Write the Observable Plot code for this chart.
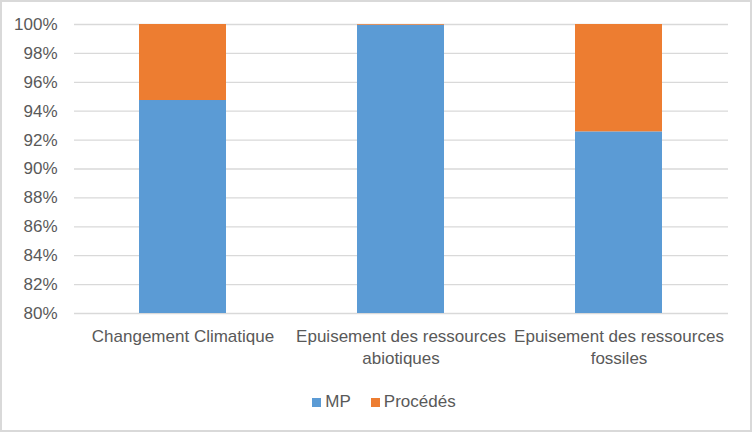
<!DOCTYPE html>
<html>
<head>
<meta charset="utf-8">
<script src="https://cdn.jsdelivr.net/npm/d3@7"></script>
<script src="https://cdn.jsdelivr.net/npm/@observablehq/plot@0.6"></script>
<style>
  html, body { margin: 0; padding: 0; background: #fff; }
  #wrap { position: relative; width: 752px; height: 432px; overflow: hidden; background: #fff;
          font-family: "Liberation Sans", Arial, sans-serif; color: #595959; }
  #wrap::after { content: ""; position: absolute; inset: 0; border: 2px solid #d9d9d9; pointer-events: none; }
  #legend { position: absolute; left: 8px; top: 388px; width: 752px; height: 28px;
            display: flex; justify-content: center; align-items: center; font-size: 17px; color: #595959; }
  .item { display: flex; align-items: center; margin: 0 10px; }
  .sw { width: 9px; height: 9px; margin-right: 4px; }
</style>
</head>
<body>
<div id="wrap">
  <div id="chart"></div>
  <div id="legend"></div>
</div>
<script>
const categories = [
  "Changement Climatique",
  "Epuisement des ressources\nabiotiques",
  "Epuisement des ressources\nfossiles"
];
const seriesNames = ["MP", "Procédés"];
const mpValues = [94.74, 99.95, 92.57];
const procedesValues = [5.26, 0.05, 7.43];
const yTicks = [80, 82, 84, 86, 88, 90, 92, 94, 96, 98, 100];
const colors = ["#5b9bd5", "#ed7d31"];

const data = [];
categories.forEach((c, i) => {
  data.push({category: c, series: seriesNames[0], value: mpValues[i]});
  data.push({category: c, series: seriesNames[1], value: procedesValues[i]});
});

const plot = Plot.plot({
  width: 752,
  height: 380,
  marginTop: 24,
  marginBottom: 67,
  marginLeft: 74,
  marginRight: 24,
  style: {fontFamily: '"Liberation Sans", Arial, sans-serif', fontSize: "17px", color: "#595959", background: "transparent"},
  x: {domain: categories, paddingInner: 0.6, paddingOuter: 0.3, label: null},
  y: {domain: [80, 100], label: null},
  color: {domain: seriesNames, range: colors},
  marks: [
    Plot.gridY(yTicks, {stroke: "#d9d9d9", strokeOpacity: 1, strokeWidth: 1.3}),
    Plot.barY(data, {x: "category", y: "value", fill: "series", order: seriesNames, clip: true}),
    Plot.axisY(yTicks, {tickSize: 0, tickPadding: 17, tickFormat: d => d + "%", fill: "#595959", fontSize: 17}),
    Plot.axisX({tickSize: 0, tickPadding: 13, fill: "#595959", fontSize: 17, lineHeight: 1.3})
  ]
});
document.getElementById("chart").appendChild(plot);

const legend = document.getElementById("legend");
seriesNames.forEach((s, i) => {
  const it = document.createElement("div");
  it.className = "item";
  const sw = document.createElement("div");
  sw.className = "sw";
  sw.style.background = colors[i];
  const t = document.createElement("span");
  t.textContent = s;
  it.appendChild(sw);
  it.appendChild(t);
  legend.appendChild(it);
});
</script>
</body>
</html>
